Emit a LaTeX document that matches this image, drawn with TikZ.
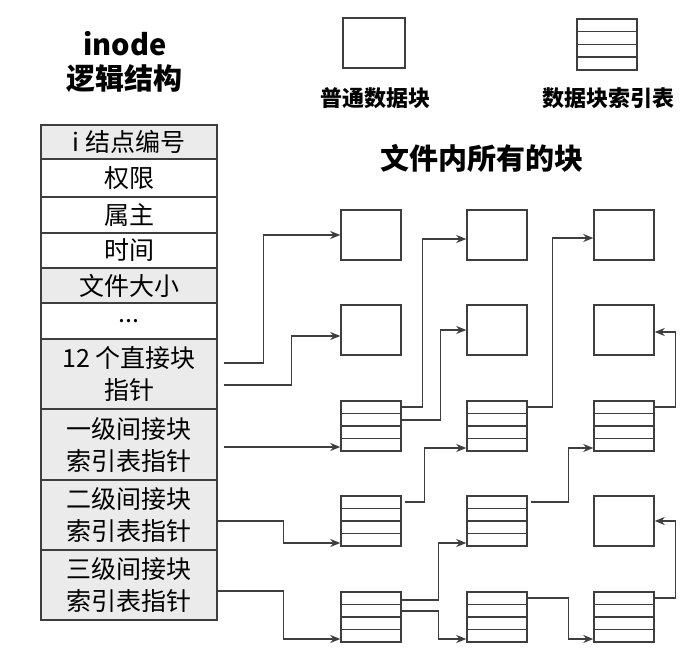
\documentclass[tikz,border=0pt]{standalone}
\usepackage{fontspec}
\setmainfont{Noto Sans CJK SC}
\usetikzlibrary{arrows.meta,calc}
\definecolor{linegray}{HTML}{3E3E3E}
\definecolor{rowgray}{HTML}{EBEBEB}
\tikzset{
  field/.style={draw=linegray, line width=1.4pt, fill=white, minimum width=176pt, inner sep=0pt, align=center, font=\fontsize{25}{32}\selectfont},
  shaded/.style={field, fill=rowgray},
  datablk/.style={draw=linegray, line width=1.5pt, minimum width=60pt, minimum height=50pt, inner sep=0pt},
  idxblk/.style={datablk, path picture={
      \foreach \f in {0.25,0.5,0.75}
        \draw[linegray, line width=1.5pt] ($(path picture bounding box.north west)!\f!(path picture bounding box.south west)$) -- ($(path picture bounding box.north east)!\f!(path picture bounding box.south east)$);
    }},
  link/.style={draw=linegray, line width=1.3pt, -{Stealth[length=10pt,width=8pt]}},
  heading/.style={font=\bfseries\fontsize{29}{32}\selectfont, inner sep=0pt},
  legendtxt/.style={font=\bfseries\fontsize{22}{24}\selectfont, inner sep=0pt}
}
\begin{document}
\begin{tikzpicture}[x=1pt, y=-1pt]
  \fill[white] (0,0) rectangle (693,652);
  % titles and legend
  \node[heading] (inodetitle) at (125,44) {inode};
  \node[heading] (logictitle) at (124,79) {逻辑结构};
  \node[datablk, minimum width=62pt] (legdata) at (374,43) {};
  \node[idxblk, minimum height=51pt] (legidx) at (607,44.5) {};
  \node[legendtxt] (legdatatxt) at (375,98) {普通数据块};
  \node[legendtxt] (legidxtxt) at (608,98) {数据块索引表};
  \node[heading] (alltitle) at (482,158) {文件内所有的块};
  % inode table
  \node[shaded, minimum height=34pt] (inum) at (129,142) {i 结点编号};
  \node[field, minimum height=38pt] (perm) at (129,178) {权限};
  \node[field, minimum height=36pt] (owner) at (129,215) {属主};
  \node[field, minimum height=35pt] (time) at (129,250.5) {时间};
  \node[shaded, minimum height=35pt] (fsize) at (129,285.5) {文件大小};
  \node[field, minimum height=36pt] (etc) at (129,321) {...};
  \node[shaded, minimum height=70pt] (direct) at (129,374) {12 个直接块\\指针};
  \node[shaded, minimum height=71pt] (lvlone) at (129,444.5) {一级间接块\\索引表指针};
  \node[shaded, minimum height=70pt] (lvltwo) at (129,515) {二级间接块\\索引表指针};
  \node[shaded, minimum height=70pt] (lvlthree) at (129,585) {三级间接块\\索引表指针};
  % blocks
  \node[datablk] (blkA1) at (371,235) {};
  \node[datablk] (blkA2) at (371,330) {};
  \node[idxblk] (idxA3) at (371,426) {};
  \node[idxblk] (idxA4) at (371,521) {};
  \node[idxblk] (idxA5) at (371,617) {};
  \node[datablk] (blkB1) at (497,235) {};
  \node[datablk] (blkB2) at (497,330) {};
  \node[idxblk] (idxB3) at (497,426) {};
  \node[idxblk] (idxB4) at (497,521) {};
  \node[idxblk] (idxB5) at (497,617) {};
  \node[datablk] (blkC1) at (624,235) {};
  \node[datablk] (blkC2) at (624,330) {};
  \node[idxblk] (idxC3) at (624,426) {};
  \node[datablk] (blkC4) at (624,521) {};
  \node[idxblk] (idxC5) at (624,617) {};
  % pointers
  \coordinate (onestart) at ([xshift=6pt,yshift=-2.5pt]lvlone.east);
  \draw[link] ([xshift=6pt,yshift=11pt]direct.east) -- ++(40,0) |- (blkA1.west);
  \draw[link] ([xshift=6pt,yshift=-11pt]direct.east) -- ++(68,0) |- ([yshift=-6pt]blkA2.west);
  \draw[link] (onestart) -- (onestart -| idxA3.west);
  \draw[link] ([yshift=-6pt]lvltwo.east) -- ++(66,0) |- ([yshift=-22pt]idxA4.west);
  \draw[link] ([yshift=-6pt]lvlthree.east) -- ++(66,0) |- ([yshift=-22pt]idxA5.west);
  \draw[link] ([yshift=19pt]idxA3.east) -- ++(21,0) |- ([yshift=-4pt]blkB1.west);
  \draw[link] ([yshift=6pt]idxA3.east) -- ++(39,0) |- (blkB2.west);
  \draw[link] ([yshift=19pt]idxB3.east) -- ++(25,0) |- ([yshift=-3pt]blkC1.west);
  \draw[link] ([yshift=19pt]idxC3.east) -- ++(21,0) |- ([yshift=-2pt]blkC2.east);
  \draw[link] ([xshift=3pt,yshift=19pt]idxA4.east) -- ++(20,0) |- ([yshift=-22pt]idxB3.west);
  \draw[link] ([xshift=3pt,yshift=19pt]idxB4.east) -- ++(38,0) |- ([yshift=-22pt]idxC3.west);
  \draw[link] ([yshift=17pt]idxA5.east) -- ++(37,0) |- ([yshift=-22pt]idxB4.west);
  \draw[link] ([yshift=6pt]idxA5.east) -- ++(37,0) |- ([yshift=-22pt]idxB5.west);
  \draw[link] ([yshift=19pt]idxB5.east) -- ++(41,0) |- ([yshift=-22pt]idxC5.west);
  \draw[link] ([yshift=19pt]idxC5.east) -- ++(21,0) |- (blkC4.east);
\end{tikzpicture}
\end{document}
